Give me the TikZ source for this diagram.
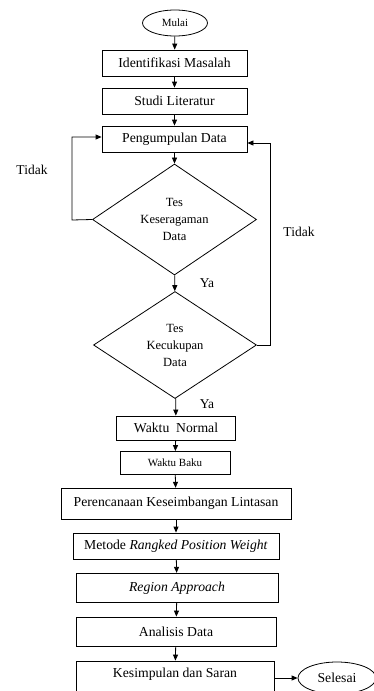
\documentclass[tikz,border=0pt]{standalone}
\usepackage{fontspec}
\setmainfont{Liberation Serif}
\usetikzlibrary{shapes.geometric,arrows.meta}
\begin{document}
\begin{tikzpicture}[x=1pt,y=-1pt,
  line width=0.8pt,
  box/.style={draw,rectangle,inner sep=0pt,font=\fontsize{13.7pt}{16pt}\selectfont},
  smallbox/.style={draw,rectangle,inner sep=0pt,font=\fontsize{11pt}{13pt}\selectfont},
  term/.style={draw,ellipse,inner sep=0pt},
  dec/.style={draw,diamond,shape aspect=1.5,inner sep=0pt,align=center,font=\fontsize{12.5pt}{17pt}\selectfont},
  lbl/.style={font=\fontsize{13.5pt}{16pt}\selectfont,inner sep=0pt},
  arr/.style={-{Triangle[length=6pt,width=5pt]}}]
\useasboundingbox (0,0) rectangle (374,691);
\clip (0,0) rectangle (374,691);
\node[term,minimum width=65pt,minimum height=26pt,font=\fontsize{11pt}{13pt}\selectfont] (mulai) at (175,23) {Mulai};
\node[box,minimum width=145pt,minimum height=26pt] (idm) at (174.5,63) {Identifikasi Masalah};
\node[box,minimum width=145pt,minimum height=26pt] (studi) at (174.5,101) {Studi Literatur};
\node[box,minimum width=145pt,minimum height=26pt] (kumpul) at (174.5,139) {Pengumpulan Data};
\node[dec,minimum width=164pt,minimum height=111pt] (d1) at (174.5,219.5) {Tes\\Keseragaman\\Data};
\node[dec,minimum width=163pt,minimum height=107pt] (d2) at (175,345) {Tes\\Kecukupan\\Data};
\node[box,minimum width=119pt,minimum height=24pt] (normal) at (176,428) {Waktu\ \ Normal};
\node[smallbox,minimum width=110pt,minimum height=23pt] (baku) at (175,463) {Waktu Baku};
\node[box,minimum width=230pt,minimum height=31pt] (rencana) at (176,503.7) {Perencanaan Keseimbangan Lintasan};
\node[box,minimum width=206pt,minimum height=26pt] (rpw) at (176,546) {Metode \textit{Rangked Position Weight}};
\node[box,minimum width=202pt,minimum height=29.5pt] (region) at (177,588) {\textit{Region Approach}};
\node[box,minimum width=200pt,minimum height=29pt] (analisis) at (176,631.5) {Analisis Data};
\node[box,minimum width=198pt,minimum height=36pt,text depth=12pt] (kes) at (175,679) {Kesimpulan dan Saran};
\node[term,minimum width=78pt,minimum height=32pt,font=\fontsize{13.7pt}{16pt}\selectfont] (selesai) at (337,678) {Selesai};

\node[lbl] (t1) at (32,170) {Tidak};
\node[lbl] (t2) at (299,232) {Tidak};
\node[lbl] (y1) at (207,283) {Ya};
\node[lbl] (y2) at (207,404) {Ya};

\coordinate (la) at (72,220);
\coordinate (lb) at (72,137);
\coordinate (ra) at (270.7,345);
\coordinate (rb) at (270.7,143);

\draw[arr] (mulai) -- (idm);
\draw[arr] (idm) -- (studi);
\draw[arr] (studi) -- (kumpul);
\draw[arr] (kumpul) -- (d1);
\draw[arr] (d1) -- (d2);
\draw[arr] (d2) -- (normal);
\draw[arr] (normal) -- (baku);
\draw[arr] (baku) -- (rencana);
\draw[arr] (rencana) -- (rpw);
\draw[arr] (rpw) -- (region);
\draw[arr] (region) -- (analisis);
\draw[arr] (analisis) -- (kes);
\draw[arr] (d1.west) -- (la) -- (lb) -- (kumpul.west |- lb);
\draw[arr] (d2.east) -- (ra) -- (rb) -- (kumpul.east |- rb);
\draw[arr] (kes.east |- selesai.west) -- (selesai.west);
\end{tikzpicture}
\end{document}
